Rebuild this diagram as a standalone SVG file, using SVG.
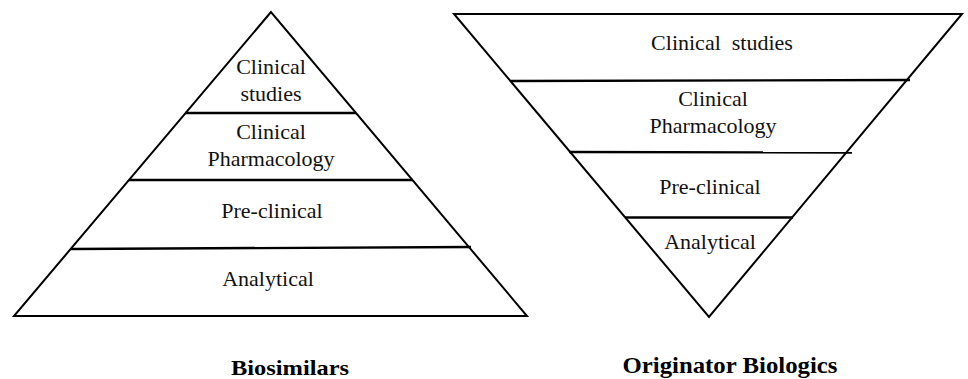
<svg xmlns="http://www.w3.org/2000/svg" width="968" height="379" viewBox="0 0 968 379">
<style>
.shape{fill:none;stroke:#000;stroke-width:2;stroke-linejoin:miter}
.div{stroke:#000;stroke-width:2.4}
</style>
<rect width="968" height="379" fill="#fff"/>
<g font-family="Liberation Serif, Times New Roman, serif" font-size="22" fill="#111" text-anchor="middle">
<g id="biosimilars">
  <polygon class="shape" points="271,12 14,316 527,316"/>
  <g id="bio-clinical-studies">
    <text x="271" y="74">Clinical</text>
    <text x="271" y="101">studies</text>
  </g>
  <g id="bio-clinical-pharmacology">
    <text x="271" y="139">Clinical</text>
    <text x="271" y="166">Pharmacology</text>
  </g>
  <g id="bio-preclinical">
    <text x="272" y="218">Pre-clinical</text>
  </g>
  <g id="bio-analytical">
    <text x="268" y="286">Analytical</text>
  </g>
  <text id="bio-title" x="290" y="375" font-weight="bold" fill="#000" textLength="118" lengthAdjust="spacingAndGlyphs">Biosimilars</text>
</g>
<g id="originator">
  <polygon class="shape" points="454,14 962,14 709,317"/>
  <g id="orig-clinical-studies">
    <text x="722" y="50" xml:space="preserve">Clinical  studies</text>
  </g>
  <g id="orig-clinical-pharmacology">
    <text x="713" y="106">Clinical</text>
    <text x="713" y="133">Pharmacology</text>
  </g>
  <g id="orig-preclinical">
    <text x="710" y="194">Pre-clinical</text>
  </g>
  <g id="orig-analytical">
    <text x="710" y="249">Analytical</text>
  </g>
  <text id="orig-title" x="730" y="373" font-size="24" font-weight="bold" fill="#000" textLength="215" lengthAdjust="spacingAndGlyphs">Originator Biologics</text>
</g>
</g>
<g id="connectors">
  <line class="div" x1="185" y1="113" x2="356" y2="113"/>
  <line class="div" x1="129" y1="180" x2="413" y2="180"/>
  <line class="div" x1="71" y1="249" x2="471" y2="247"/>
  <line class="div" x1="511" y1="81" x2="910" y2="80"/>
  <line class="div" x1="569" y1="152" x2="852" y2="152.5"/>
  <line class="div" x1="625" y1="217.5" x2="793" y2="217.5"/>
</g>
</svg>
